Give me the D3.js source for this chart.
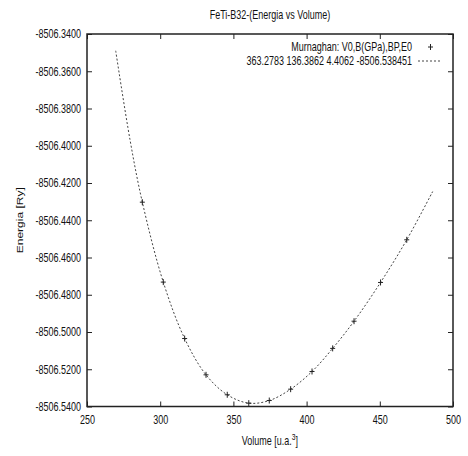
<!DOCTYPE html>
<html>
<head>
<meta charset="utf-8">
<script src="https://cdn.jsdelivr.net/npm/d3@7"></script>
<style>
  html, body { margin: 0; padding: 0; background: #ffffff; }
  svg { display: block; }
  text { font-family: "Liberation Sans", Arial, sans-serif; fill: #111; }
</style>
</head>
<body>
<svg id="chart" width="468" height="456"></svg>
<script>
// Computed E(V) points (volume in u.a.^3, energy in Ry)
const volume = [287.8, 302.1, 316.7, 331.3, 345.8, 360.5, 374.5, 389.1, 403.7, 417.8, 432.4, 450.5, 468.4];
const energy = [-8506.4303, -8506.4732, -8506.5035, -8506.5230, -8506.5337, -8506.5382, -8506.5368,
                -8506.5307, -8506.5212, -8506.5088, -8506.4942, -8506.4734, -8506.4505];

// Murnaghan fit curve, sampled along its length
const fitVolume = [269.6, 279.4, 287.8, 302.1, 316.7, 331.3, 345.8, 360.5, 374.5, 389.1, 403.7, 417.8, 432.4, 450.5, 468.4, 486.1];
const fitEnergy = [-8506.3490, -8506.3969, -8506.4303, -8506.4732, -8506.5035, -8506.5230, -8506.5337, -8506.5382,
                   -8506.5368, -8506.5307, -8506.5212, -8506.5088, -8506.4942, -8506.4734, -8506.4505, -8506.4246];

// Axis ticks
const xTicks = [250, 300, 350, 400, 450, 500];
const yTicks = [-8506.54, -8506.52, -8506.50, -8506.48, -8506.46, -8506.44, -8506.42, -8506.40, -8506.38, -8506.36, -8506.34];

const titleText = "FeTi-B32-(Energia vs Volume)";
const legendTitle = "Murnaghan: V0,B(GPa),BP,E0";
const legendFit = "363.2783 136.3862 4.4062 -8506.538451";

const svg = d3.select("#chart");
const L = 87, R = 453, T = 34, B = 406.5;
const SQ = 0.75; // horizontal condensing of the lettering

const x = d3.scaleLinear().domain([250, 500]).range([L, R]);
const y = d3.scaleLinear().domain([-8506.54, -8506.34]).range([B, T]);

// fixed 4 decimals with a plain hyphen as minus sign
const fmtY = d => d3.format(".4f")(d).replace("\u2212", "-");

// condense a text horizontally about its own anchor point
function squeeze(sel) {
  sel.each(function () {
    const t = d3.select(this);
    const ax = +t.attr("x") || 0;
    t.attr("transform", `translate(${ax},0) scale(${SQ},1) translate(${-ax},0)`);
  });
}

// Bottom axis (labels) and top mirror ticks
svg.append("g").attr("transform", `translate(0,${B})`)
  .call(d3.axisBottom(x).tickValues(xTicks).tickSize(-5).tickPadding(8.5).tickFormat(d3.format("d")))
  .call(g => g.select(".domain").remove())
  .call(g => g.selectAll("text").attr("font-size", 12).attr("font-family", null).call(squeeze));
svg.append("g").attr("transform", `translate(0,${T})`)
  .call(d3.axisTop(x).tickValues(xTicks).tickSize(-5).tickFormat(""))
  .call(g => g.select(".domain").remove());

// Left axis (labels) and right mirror ticks
svg.append("g").attr("transform", `translate(${L},0)`)
  .call(d3.axisLeft(y).tickValues(yTicks).tickSize(-5).tickPadding(6).tickFormat(fmtY))
  .call(g => g.select(".domain").remove())
  .call(g => g.selectAll("text").attr("font-size", 12).attr("font-family", null).call(squeeze));
svg.append("g").attr("transform", `translate(${R},0)`)
  .call(d3.axisRight(y).tickValues(yTicks).tickSize(-5).tickFormat(""))
  .call(g => g.select(".domain").remove());

svg.selectAll(".tick line").attr("stroke", "#222").attr("stroke-width", 1);

// Plot frame
svg.append("rect")
  .attr("x", L).attr("y", T).attr("width", R - L).attr("height", B - T)
  .attr("fill", "none").attr("stroke", "#222").attr("stroke-width", 1.5);

// Fit curve
const fitPts = fitVolume.map((v, i) => [v, fitEnergy[i]]);
svg.append("path")
  .datum(fitPts)
  .attr("fill", "none")
  .attr("stroke", "#444")
  .attr("stroke-width", 1)
  .attr("stroke-dasharray", "2,2")
  .attr("d", d3.line().x(d => x(d[0])).y(d => y(d[1])).curve(d3.curveCatmullRom.alpha(0.5)));

// Data points as "+" markers
const plus = (cx, cy) => `M${cx - 2.5},${cy}H${cx + 2.5}M${cx},${cy - 3}V${cy + 3}`;
svg.append("g").selectAll("path")
  .data(volume.map((v, i) => [v, energy[i]]))
  .join("path")
  .attr("d", d => plus(x(d[0]), y(d[1])))
  .attr("stroke", "#222").attr("stroke-width", 1).attr("fill", "none");

// Title
svg.append("text").attr("x", (L + R) / 2).attr("y", 19.5)
  .attr("text-anchor", "middle").attr("font-size", 12).text(titleText).call(squeeze);

// Axis titles
const xl = svg.append("text").attr("x", 270).attr("y", 445).attr("text-anchor", "middle").attr("font-size", 12);
xl.append("tspan").text("Volume [u.a.");
xl.append("tspan").attr("dy", -5).attr("font-size", 9).text("3");
xl.append("tspan").attr("dy", 5).text("]");
xl.call(squeeze);

svg.append("text")
  .attr("transform", `translate(23,${(T + B) / 2}) rotate(-90) scale(1,${SQ})`)
  .attr("text-anchor", "middle").attr("font-size", 12).text("Energia [Ry]");

// Legend
const legX = 412;
svg.append("text").attr("x", legX).attr("y", 51).attr("text-anchor", "end").attr("font-size", 12).text(legendTitle).call(squeeze);
svg.append("path").attr("d", plus(430.5, 47)).attr("stroke", "#222").attr("stroke-width", 1);
svg.append("text").attr("x", legX).attr("y", 65).attr("text-anchor", "end").attr("font-size", 12).text(legendFit).call(squeeze);
svg.append("line").attr("x1", 418).attr("x2", 442).attr("y1", 61).attr("y2", 61)
  .attr("stroke", "#444").attr("stroke-width", 1).attr("stroke-dasharray", "2,2");
</script>
</body>
</html>
